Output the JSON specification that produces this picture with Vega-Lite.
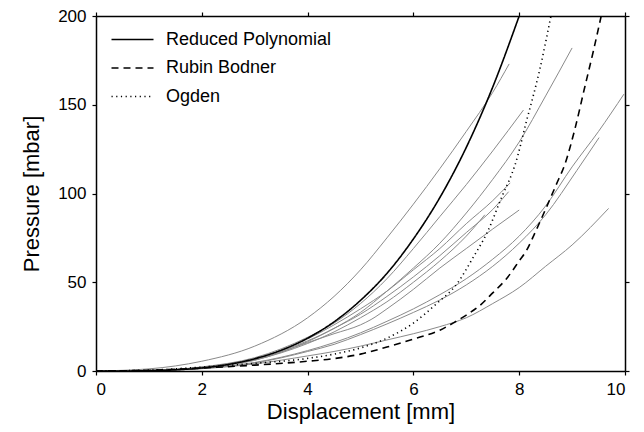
{
  "$schema": "https://vega.github.io/schema/vega-lite/v6.json",
  "width": 529,
  "height": 355,
  "autosize": "none",
  "padding": {"left": 96, "top": 16, "right": 19, "bottom": 61},
  "background": "white",
  "config": {
    "view": {"stroke": null},
    "font": "Liberation Sans",
    "axis": {
      "domainColor": "black", "domainWidth": 1.5, "tickColor": "black", "tickWidth": 1.2, "tickSize": 4,
      "grid": false, "labelColor": "black", "labelFont": "Liberation Sans", "labelFontSize": 17,
      "titleColor": "black", "titleFont": "Liberation Sans", "titleFontSize": 22, "titleFontWeight": "normal"
    }
  },
  "datasets": {
    "measured": [
      {"s":"A","x":0,"y":0},{"s":"A","x":1,"y":1.2},{"s":"A","x":2,"y":5.5},{"s":"A","x":3,"y":14},{"s":"A","x":4,"y":30},{"s":"A","x":4.5,"y":42},{"s":"A","x":5,"y":57},{"s":"A","x":5.5,"y":75},{"s":"A","x":6,"y":94},{"s":"A","x":6.5,"y":114},{"s":"A","x":7,"y":135},{"s":"A","x":7.5,"y":157},{"s":"A","x":7.81,"y":173},
      {"s":"B","x":0,"y":0},{"s":"B","x":1,"y":0.3},{"s":"B","x":2,"y":2.3},{"s":"B","x":3,"y":7.5},{"s":"B","x":4,"y":19},{"s":"B","x":4.5,"y":27},{"s":"B","x":5,"y":38},{"s":"B","x":5.5,"y":52},{"s":"B","x":6,"y":69},{"s":"B","x":6.5,"y":87},{"s":"B","x":7,"y":105},{"s":"B","x":7.5,"y":124},{"s":"B","x":8.08,"y":147},
      {"s":"C","x":0,"y":0},{"s":"C","x":1,"y":0.3},{"s":"C","x":2,"y":2.1},{"s":"C","x":3,"y":7},{"s":"C","x":4,"y":17},{"s":"C","x":4.5,"y":24},{"s":"C","x":5,"y":33},{"s":"C","x":5.5,"y":45},{"s":"C","x":6,"y":58},{"s":"C","x":6.5,"y":72},{"s":"C","x":7,"y":89},{"s":"C","x":7.5,"y":108},{"s":"C","x":8,"y":129},{"s":"C","x":8.5,"y":155},{"s":"C","x":9,"y":182},
      {"s":"H1","x":0,"y":0},{"s":"H1","x":1,"y":0.3},{"s":"H1","x":2,"y":2.1},{"s":"H1","x":3,"y":7},{"s":"H1","x":4,"y":18},{"s":"H1","x":4.5,"y":26},{"s":"H1","x":5,"y":35},{"s":"H1","x":5.5,"y":45},{"s":"H1","x":6,"y":57},{"s":"H1","x":6.5,"y":69},{"s":"H1","x":7,"y":83},{"s":"H1","x":7.5,"y":96},{"s":"H1","x":7.83,"y":106},
      {"s":"H2","x":0,"y":0},{"s":"H2","x":1,"y":0.3},{"s":"H2","x":2,"y":2},{"s":"H2","x":3,"y":6.5},{"s":"H2","x":4,"y":16.5},{"s":"H2","x":4.5,"y":24},{"s":"H2","x":5,"y":32},{"s":"H2","x":5.5,"y":42},{"s":"H2","x":6,"y":53},{"s":"H2","x":6.5,"y":65},{"s":"H2","x":7,"y":78},{"s":"H2","x":7.5,"y":91},{"s":"H2","x":7.8,"y":101},
      {"s":"J","x":0,"y":0},{"s":"J","x":1,"y":0.3},{"s":"J","x":2,"y":1.9},{"s":"J","x":3,"y":6.2},{"s":"J","x":4,"y":15.5},{"s":"J","x":4.5,"y":22},{"s":"J","x":5,"y":30},{"s":"J","x":5.5,"y":39},{"s":"J","x":6,"y":50},{"s":"J","x":6.5,"y":62},{"s":"J","x":7,"y":76},{"s":"J","x":7.35,"y":88},
      {"s":"G","x":0,"y":0},{"s":"G","x":1,"y":0.3},{"s":"G","x":2,"y":1.8},{"s":"G","x":3,"y":6},{"s":"G","x":4,"y":16},{"s":"G","x":4.5,"y":21},{"s":"G","x":5,"y":26},{"s":"G","x":5.2,"y":29},{"s":"G","x":5.5,"y":35},{"s":"G","x":6,"y":46},{"s":"G","x":6.5,"y":58},{"s":"G","x":7,"y":69},{"s":"G","x":7.5,"y":80},{"s":"G","x":8,"y":90.7},
      {"s":"D","x":0,"y":0},{"s":"D","x":1,"y":0.2},{"s":"D","x":2,"y":1.5},{"s":"D","x":3,"y":4.8},{"s":"D","x":4,"y":11.5},{"s":"D","x":4.5,"y":16},{"s":"D","x":5,"y":21.5},{"s":"D","x":5.5,"y":28},{"s":"D","x":6,"y":35},{"s":"D","x":6.5,"y":43},{"s":"D","x":7,"y":52},{"s":"D","x":7.5,"y":63},{"s":"D","x":8,"y":76},{"s":"D","x":8.5,"y":93},{"s":"D","x":9,"y":115},{"s":"D","x":9.5,"y":135},{"s":"D","x":9.98,"y":156},
      {"s":"E","x":0,"y":0},{"s":"E","x":1,"y":0.2},{"s":"E","x":2,"y":1.4},{"s":"E","x":3,"y":4.5},{"s":"E","x":4,"y":11},{"s":"E","x":4.5,"y":15},{"s":"E","x":5,"y":20.5},{"s":"E","x":5.5,"y":26.5},{"s":"E","x":6,"y":33},{"s":"E","x":6.5,"y":40},{"s":"E","x":7,"y":48.5},{"s":"E","x":7.5,"y":59},{"s":"E","x":8,"y":72},{"s":"E","x":8.5,"y":88},{"s":"E","x":9.09,"y":113},{"s":"E","x":9.51,"y":131.5},
      {"s":"F","x":0,"y":0},{"s":"F","x":1,"y":0.2},{"s":"F","x":2,"y":1.3},{"s":"F","x":3,"y":4},{"s":"F","x":4,"y":8.5},{"s":"F","x":4.5,"y":11},{"s":"F","x":5,"y":14},{"s":"F","x":5.5,"y":17.5},{"s":"F","x":6,"y":21},{"s":"F","x":6.5,"y":25},{"s":"F","x":7,"y":30},{"s":"F","x":7.5,"y":38},{"s":"F","x":8,"y":47},{"s":"F","x":8.5,"y":59},{"s":"F","x":9,"y":71},{"s":"F","x":9.69,"y":91.6}
    ],
    "models": [
      {"m":"Reduced Polynomial","x":0,"y":0},{"m":"Reduced Polynomial","x":0.5,"y":0.02},{"m":"Reduced Polynomial","x":1,"y":0.16},{"m":"Reduced Polynomial","x":1.5,"y":0.64},{"m":"Reduced Polynomial","x":2,"y":1.7},{"m":"Reduced Polynomial","x":2.5,"y":3.7},{"m":"Reduced Polynomial","x":3,"y":6.9},{"m":"Reduced Polynomial","x":3.5,"y":11.7},{"m":"Reduced Polynomial","x":4,"y":18.5},{"m":"Reduced Polynomial","x":4.5,"y":27.7},{"m":"Reduced Polynomial","x":5,"y":39.8},{"m":"Reduced Polynomial","x":5.5,"y":55},{"m":"Reduced Polynomial","x":6,"y":74.4},{"m":"Reduced Polynomial","x":6.5,"y":97.7},{"m":"Reduced Polynomial","x":7,"y":126},{"m":"Reduced Polynomial","x":7.5,"y":160},{"m":"Reduced Polynomial","x":8,"y":200},
      {"m":"Rubin Bodner","x":0,"y":0},{"m":"Rubin Bodner","x":1,"y":0.4},{"m":"Rubin Bodner","x":2,"y":1.7},{"m":"Rubin Bodner","x":3,"y":3.3},{"m":"Rubin Bodner","x":4,"y":5.5},{"m":"Rubin Bodner","x":4.5,"y":7},{"m":"Rubin Bodner","x":5,"y":9.5},{"m":"Rubin Bodner","x":5.5,"y":13.5},{"m":"Rubin Bodner","x":6,"y":18},{"m":"Rubin Bodner","x":6.5,"y":23},{"m":"Rubin Bodner","x":6.75,"y":27},{"m":"Rubin Bodner","x":7,"y":31.5},{"m":"Rubin Bodner","x":7.26,"y":37},{"m":"Rubin Bodner","x":7.5,"y":44},{"m":"Rubin Bodner","x":7.76,"y":52},{"m":"Rubin Bodner","x":8,"y":62},{"m":"Rubin Bodner","x":8.14,"y":68},{"m":"Rubin Bodner","x":8.3,"y":78},{"m":"Rubin Bodner","x":8.52,"y":92.6},{"m":"Rubin Bodner","x":8.7,"y":105},{"m":"Rubin Bodner","x":8.87,"y":117},{"m":"Rubin Bodner","x":9.05,"y":136},{"m":"Rubin Bodner","x":9.24,"y":160},{"m":"Rubin Bodner","x":9.4,"y":180},{"m":"Rubin Bodner","x":9.55,"y":200},
      {"m":"Ogden","x":0,"y":0},{"m":"Ogden","x":1,"y":0.5},{"m":"Ogden","x":2,"y":2.2},{"m":"Ogden","x":3,"y":4.3},{"m":"Ogden","x":4,"y":7.1},{"m":"Ogden","x":4.5,"y":9.5},{"m":"Ogden","x":5,"y":13},{"m":"Ogden","x":5.5,"y":18.5},{"m":"Ogden","x":6,"y":27},{"m":"Ogden","x":6.44,"y":38},{"m":"Ogden","x":6.82,"y":49},{"m":"Ogden","x":7.13,"y":64},{"m":"Ogden","x":7.41,"y":79},{"m":"Ogden","x":7.67,"y":98},{"m":"Ogden","x":7.86,"y":111},{"m":"Ogden","x":7.92,"y":116},{"m":"Ogden","x":8.14,"y":141},{"m":"Ogden","x":8.39,"y":170},{"m":"Ogden","x":8.6,"y":200}
    ]
  },
  "layer": [
    {
      "data": {"name": "measured"},
      "mark": {"type": "line", "color": "#8a8a8a", "strokeWidth": 1, "clip": true, "interpolate": "monotone"},
      "encoding": {
        "x": {"field": "x", "type": "quantitative", "scale": {"domain": [0, 10], "nice": false},
              "axis": {"orient": "top", "labels": false, "title": null, "values": [0,2,4,6,8,10]}},
        "y": {"field": "y", "type": "quantitative", "scale": {"domain": [0, 200], "nice": false},
              "axis": {"orient": "right", "labels": false, "title": null, "values": [0,50,100,150,200]}},
        "detail": {"field": "s", "type": "nominal"}
      }
    },
    {
      "data": {"name": "models"},
      "mark": {"type": "line", "color": "black", "strokeWidth": 1.6, "clip": true, "interpolate": "monotone"},
      "encoding": {
        "x": {"field": "x", "type": "quantitative",
              "axis": {"orient": "bottom", "title": "Displacement [mm]", "values": [0,2,4,6,8,10], "labelPadding": 6, "titlePadding": 4}},
        "y": {"field": "y", "type": "quantitative",
              "axis": {"orient": "left", "title": "Pressure [mbar]", "values": [0,50,100,150,200], "labelPadding": 6, "titlePadding": 14}},
        "strokeDash": {
          "field": "m", "type": "nominal",
          "scale": {"domain": ["Reduced Polynomial", "Rubin Bodner", "Ogden"], "range": [[1, 0], [7, 5], [1.2, 3.5]]},
          "legend": {
            "title": null, "orient": "none", "legendX": 25, "legendY": 12,
            "symbolType": "M-2,0H2", "symbolSize": 441, "symbolStrokeColor": "black", "symbolStrokeWidth": 1.4,
            "labelFontSize": 18, "labelColor": "black", "labelFont": "Liberation Sans", "labelOffset": 22, "labelLimit": 0, "rowPadding": 7.5
          }
        }
      }
    }
  ],
  "resolve": {"axis": {"x": "independent", "y": "independent"}}
}
